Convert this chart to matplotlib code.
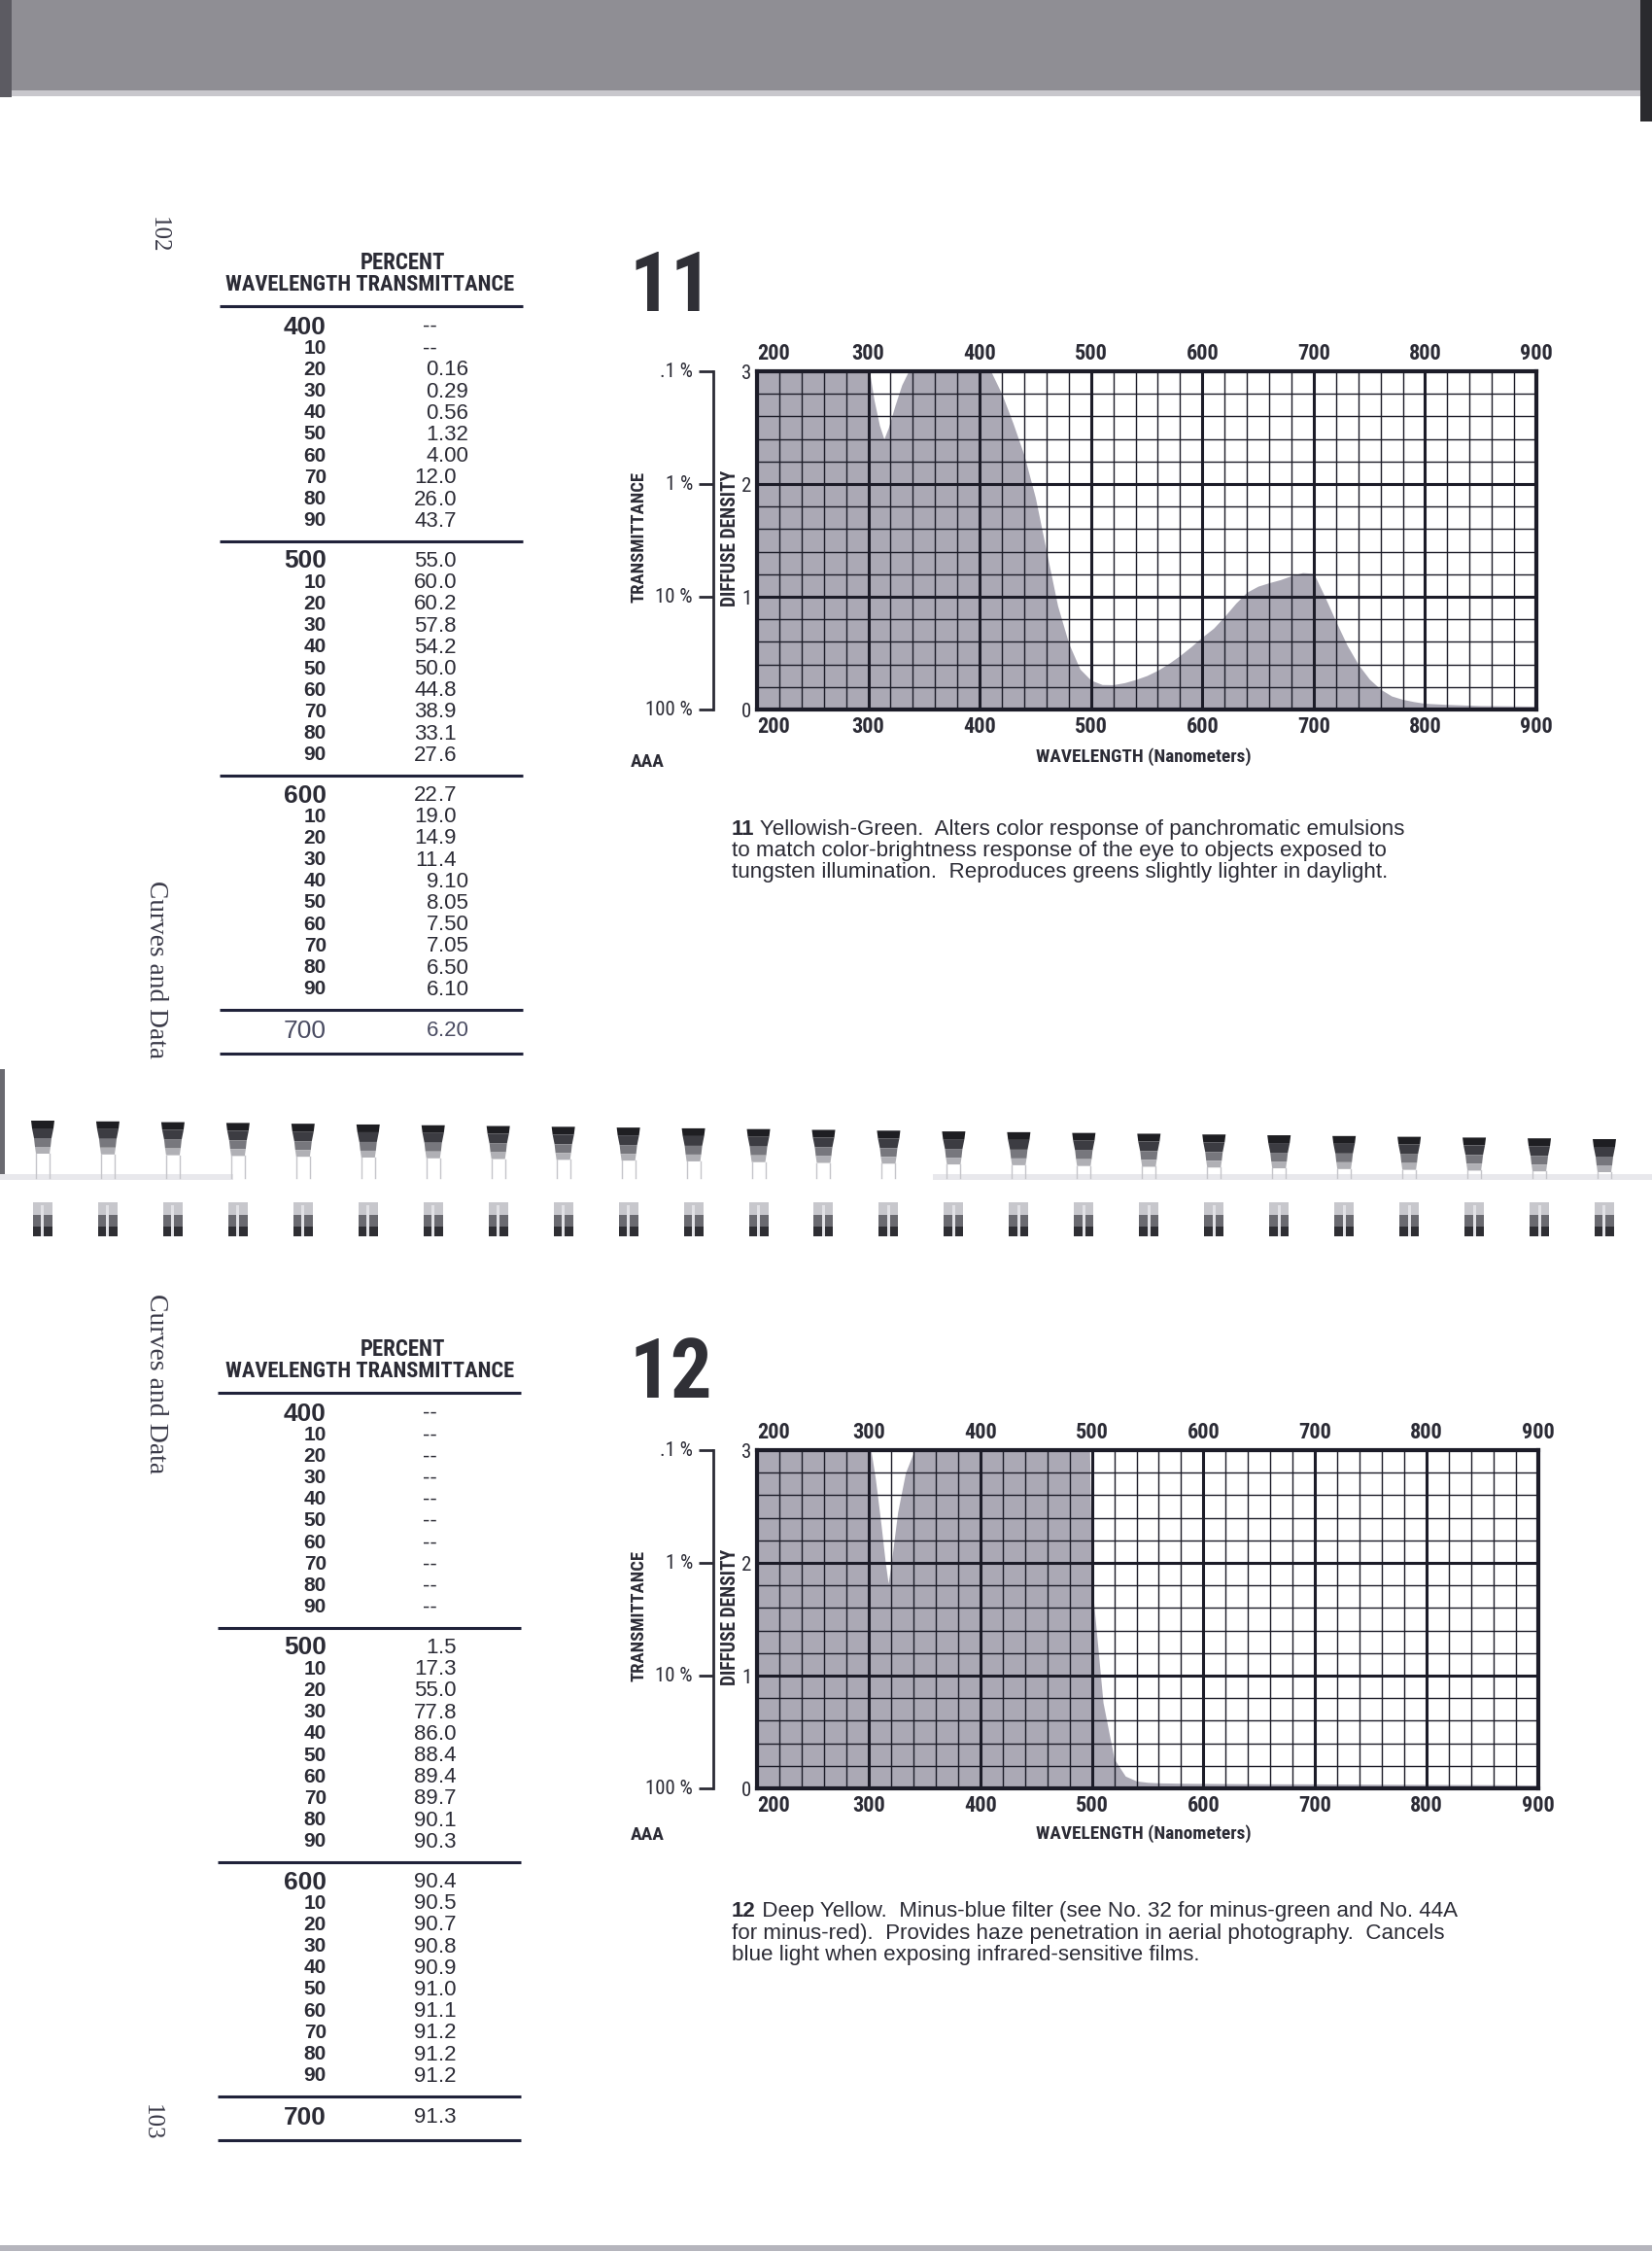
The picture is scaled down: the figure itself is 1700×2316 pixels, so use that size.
import numpy as np
import matplotlib
matplotlib.use("Agg")
import matplotlib.pyplot as plt
from matplotlib import font_manager as fm
from matplotlib.patches import Rectangle, Polygon
from matplotlib.ticker import MultipleLocator, FixedLocator

# ---------------- data (read from the page) ----------------
wl_table = list(range(400, 701, 10))
t11_text = ["--", "--", "0.16", "0.29", "0.56", "1.32", "4.00", "12.0", "26.0", "43.7",
            "55.0", "60.0", "60.2", "57.8", "54.2", "50.0", "44.8", "38.9", "33.1", "27.6",
            "22.7", "19.0", "14.9", "11.4", "9.10", "8.05", "7.50", "7.05", "6.50", "6.10",
            "6.20"]
t12_text = ["--", "--", "--", "--", "--", "--", "--", "--", "--", "--",
            "1.5", "17.3", "55.0", "77.8", "86.0", "88.4", "89.4", "89.7", "90.1", "90.3",
            "90.4", "90.5", "90.7", "90.8", "90.9", "91.0", "91.1", "91.2", "91.2", "91.2",
            "91.3"]

c11_wl_extra = [200, 301, 305, 310, 314, 318, 324, 330, 336, 395,
                710, 720, 730, 740, 750, 760, 770, 780, 790, 800, 820, 850, 900]
c11_d_extra = [3.0, 3.0, 2.75, 2.52, 2.40, 2.50, 2.70, 2.88, 3.0, 3.0,
               1.00, 0.78, 0.57, 0.40, 0.27, 0.18, 0.12, 0.09, 0.07, 0.055, 0.045, 0.035, 0.03]
c12_wl_extra = [200, 302, 306, 311, 315, 317.5, 320, 326, 333, 341, 395, 498,
                750, 800, 850, 900]
c12_d_extra = [3.0, 3.0, 2.75, 2.35, 2.0, 1.82, 1.98, 2.45, 2.8, 3.0, 3.0, 3.0,
               0.037, 0.035, 0.033, 0.03]

wl_ticks = [200, 300, 400, 500, 600, 700, 800, 900]
dens_ticks = [0, 1, 2, 3]
trans_pct = [0.1, 1, 10, 100]
trans_labels = [".1 %", "1 %", "10 %", "100 %"]

cap11 = ["11 Yellowish-Green.  Alters color response of panchromatic emulsions",
         "to match color-brightness response of the eye to objects exposed to",
         "tungsten illumination.  Reproduces greens slightly lighter in daylight."]
cap12 = ["12 Deep Yellow.  Minus-blue filter (see No. 32 for minus-green and No. 44A",
         "for minus-red).  Provides haze penetration in aerial photography.  Cancels",
         "blue light when exposing infrared-sensitive films."]

# ---------------- fonts / styles ----------------
def has_font(name):
    try:
        fm.findfont(fm.FontProperties(family=name), fallback_to_default=False)
        return True
    except Exception:
        return False


NARROW, STRETCH, NS = None, "normal", 0.84
for name in ["Liberation Sans Narrow", "Arial Narrow", "Roboto Condensed",
             "Noto Sans Condensed", "Open Sans Condensed", "DejaVu Sans Condensed"]:
    if has_font(name):
        NARROW, STRETCH, NS = [name, "DejaVu Sans"], "normal", 1.0
        break
if NARROW is None:
    for fam in ["Noto Sans", "Open Sans", "DejaVu Sans", "Roboto", "Inter"]:
        try:
            p = fm.findfont(fm.FontProperties(family=fam, stretch="condensed", weight="bold"),
                            fallback_to_default=False)
        except Exception:
            continue
        if "ondensed" in p or "arrow" in p:
            NARROW, STRETCH, NS = [fam, "DejaVu Sans"], "condensed", 0.95
            break
if NARROW is None:
    NARROW = ["DejaVu Sans"]

SANS = ["Liberation Sans", "DejaVu Sans"]
SERIF = ["Liberation Serif", "DejaVu Serif"]
INK = "#2b2b35"
GRID = "#1c1c28"
FILL = "#aba9b5"
RULE = "#20223a"
PX = 100 / 72.0
CAP = 0.72

W, H = 1700, 2316
fig = plt.figure(figsize=(W / 100, H / 100), dpi=100)
fig.patch.set_facecolor("white")
pg = fig.add_axes([0, 0, 1, 1])
pg.set_xlim(0, W)
pg.set_ylim(H, 0)
pg.axis("off")

fits = []


def ptext(x, yc, s, size, family=SANS, weight="normal", ha="left", color=INK, fitw=None,
          stretch="normal"):
    t = pg.text(x, yc + CAP * size * PX / 2, s, fontsize=size, family=family,
                fontweight=weight, ha=ha, va="baseline", color=color, fontstretch=stretch)
    if fitw:
        fits.append((t, fitw, yc, "h"))
    return t


def vtext(x, y, s, size, rotation, family, weight="normal", color=INK, fitl=None,
          stretch="normal"):
    t = pg.text(x, y, s, fontsize=size, family=family, fontweight=weight,
                rotation=rotation, ha="center", va="center", color=color, fontstretch=stretch)
    if fitl:
        fits.append((t, fitl, None, "v"))
    return t


# ---------------- page decoration ----------------
pg.add_patch(Rectangle((0, 0), W, 93, color="#8f8e94", lw=0))
pg.add_patch(Rectangle((0, 93), W, 6, color="#c8c7cc", lw=0))
pg.add_patch(Rectangle((0, 0), 12, 100, color="#5c5b62", lw=0))
pg.add_patch(Rectangle((1688, 0), 12, 125, color="#2a2a2e", lw=0))
pg.add_patch(Rectangle((0, 1100), 5, 110, color="#6a6a70", lw=0))
pg.add_patch(Rectangle((0, 2310), W, 6, color="#b5b5bd", lw=0))
pg.add_patch(Rectangle((0, 1208), 240, 6, color="#e8e8ec", lw=0))
pg.add_patch(Rectangle((960, 1208), 740, 6, color="#e8e8ec", lw=0))

ring_x = np.linspace(44, 1651, 25)
for i, x in enumerate(ring_x):
    y0 = 1153 + 19 * i / 24
    shades = ["#1e1e22", "#3c3c42", "#77777d", "#b0b0b5"]
    ys = [y0, y0 + 8, y0 + 18, y0 + 27, y0 + 34]
    ws = [12, 11, 9, 8, 7]
    for k in range(4):
        pg.add_patch(Polygon([[x - ws[k], ys[k]], [x + ws[k], ys[k]],
                              [x + ws[k + 1], ys[k + 1]], [x - ws[k + 1], ys[k + 1]]],
                             color=shades[k], lw=0))
    pg.plot([x - 7, x - 7], [y0 + 34, 1212], color="#c5c5ca", lw=1)
    pg.plot([x + 7, x + 7], [y0 + 34, 1212], color="#c5c5ca", lw=1)
    pg.add_patch(Rectangle((x - 10, 1237), 20, 35, color="#c7c7cc", lw=0))
    pg.add_patch(Rectangle((x - 10, 1250), 20, 22, color="#6a6a70", lw=0))
    pg.add_patch(Rectangle((x - 10, 1262), 20, 10, color="#2e2e33", lw=0))
    pg.add_patch(Rectangle((x - 1.5, 1240), 3, 32, color="#e2e2e6", lw=0))

# margin texts
vtext(163, 242, "102", 18, -90, SERIF, color="#3a3a48")
vtext(160, 998, "Curves and Data", 20, -90, SERIF, color="#3a3a48", fitl=183)
vtext(160, 1424, "Curves and Data", 20, -90, SERIF, color="#3a3a48", fitl=185)
vtext(156, 2184, "103", 18, -90, SERIF, color="#3a3a48")


# ---------------- tables ----------------
def draw_value(x_dec, x_dash, y, s, color):
    if s == "--":
        ptext(x_dash, y, s, 16, ha="center", color=color)
    else:
        a, b = s.split(".")
        ptext(x_dec, y, a, 16, ha="right", color=color)
        ptext(x_dec, y, "." + b, 16, ha="left", color=color)


def draw_table(y0, values, xr, light_last):
    ptext(415, y0 - 46, "PERCENT", 15 * NS, family=NARROW, stretch=STRETCH, weight="bold",
          ha="center", fitw=88)
    ptext(232, y0 - 24, "WAVELENGTH TRANSMITTANCE", 15 * NS, family=NARROW, stretch=STRETCH,
          weight="bold", fitw=298)
    pg.plot(xr, [y0, y0], color=RULE, lw=2.2, solid_capstyle="butt")
    x_wl, x_dec, x_dash = 336, 451, 442
    for k in range(3):
        yb = y0 + 19 + 241 * k
        for i in range(10):
            idx = k * 10 + i
            y = yb + 22.2 * i
            if i == 0:
                ptext(x_wl, y, str(wl_table[idx]), 19, weight="bold", ha="right")
            else:
                ptext(x_wl, y, str(wl_table[idx] % 100), 15, weight="bold", ha="right")
            draw_value(x_dec, x_dash, y, values[idx], INK)
        yr = yb + 223
        pg.plot(xr, [yr, yr], color=RULE, lw=2.2, solid_capstyle="butt")
    y7 = yr + 19
    c7 = "#4a4c62" if light_last else INK
    ptext(x_wl, y7, str(wl_table[30]), 19, weight="normal" if light_last else "bold",
          ha="right", color=c7)
    draw_value(x_dec, x_dash, y7, values[30], c7)
    pg.plot(xr, [y7 + 26, y7 + 26], color=RULE, lw=2.2, solid_capstyle="butt")


draw_table(315, t11_text, [226, 538], True)
draw_table(1433, t12_text, [224, 536], False)


# ---------------- charts ----------------
def curve(values, wl_extra, d_extra):
    pts = {}
    for w, s in zip(wl_table, values):
        pts[w] = 3.0 if s == "--" else -np.log10(float(s) / 100.0)
    for w, d in zip(wl_extra, d_extra):
        if w not in pts:
            pts[w] = d
    ws = sorted(pts)
    return np.array(ws, float), np.array([pts[w] for w in ws])


def draw_chart(top, bottom, right, values, wl_extra, d_extra, number, num_y, aaa_y, wl_y):
    ax = fig.add_axes([779 / W, (H - bottom) / H, (right - 779) / W, (bottom - top) / H])
    wl, d = curve(values, wl_extra, d_extra)
    ax.fill_between(wl, 0, np.clip(d, 0, 3), color=FILL, lw=0, zorder=1)
    ax.set_xlim(200, 900)
    ax.set_ylim(0, 3)
    ax.xaxis.set_major_locator(FixedLocator(wl_ticks))
    ax.xaxis.set_minor_locator(MultipleLocator(20))
    ax.yaxis.set_major_locator(FixedLocator(dens_ticks))
    ax.yaxis.set_minor_locator(MultipleLocator(0.2))
    ax.grid(which="major", color=GRID, lw=2.2)
    ax.grid(which="minor", color=GRID, lw=1.0)
    ax.set_axisbelow(False)
    for s in ax.spines.values():
        s.set_linewidth(3.0)
        s.set_color(GRID)
    ax.tick_params(which="both", length=0)
    ax.tick_params(axis="x", labeltop=True, labelbottom=True, pad=5)
    ax.set_xticklabels([str(w) for w in wl_ticks], fontfamily=NARROW, fontstretch=STRETCH,
                       fontweight="bold", fontsize=16 * NS, color=INK)
    ticks = ax.xaxis.get_major_ticks()
    ticks[0].label1.set_ha("left")
    ticks[0].label2.set_ha("left")
    ax.tick_params(axis="y", pad=4)
    ax.set_yticklabels([str(v) for v in dens_ticks], fontfamily=NARROW, fontstretch=STRETCH,
                       fontsize=15 * NS, color=INK)

    tr = ax.get_yaxis_transform()
    xl, xt = -0.0561, -0.0748
    ax.plot([xl, xl], [0, 3], transform=tr, clip_on=False, color=INK, lw=2.0)
    for p, lab in zip(trans_pct, trans_labels):
        dd = -np.log10(p / 100.0)
        ax.plot([xt, xl], [dd, dd], transform=tr, clip_on=False, color=INK, lw=2.0,
                solid_capstyle="butt")
        ax.text(-0.0823, dd, lab, transform=tr, ha="right", va="center",
                fontfamily=NARROW, fontstretch=STRETCH, fontsize=15 * NS, color=INK)

    vtext(658, top + 170, "TRANSMITTANCE", 12 * NS, 90, NARROW, weight="bold", fitl=134,
          stretch=STRETCH)
    vtext(752, top + 172, "DIFFUSE DENSITY", 12 * NS, 90, NARROW, weight="bold", fitl=140,
          stretch=STRETCH)
    ptext(647, num_y, number, 61, family=NARROW, stretch=STRETCH, weight="bold",
          color="#303036")
    ptext(649, aaa_y, "AAA", 14 * NS, family=NARROW, stretch=STRETCH, weight="bold")
    ptext(1177, wl_y, "WAVELENGTH (Nanometers)", 14, family=NARROW, stretch=STRETCH,
          weight="bold", ha="center", fitw=222)
    return ax


draw_chart(382, 730, 1581, t11_text, c11_wl_extra, c11_d_extra, "11", 290, 782, 777)
draw_chart(1492, 1840, 1583, t12_text, c12_wl_extra, c12_d_extra, "12", 1407, 1886, 1885)

# ---------------- captions ----------------
captions = []


def caption(x, ys, lines, target_w):
    num, rest = lines[0].split(" ", 1)
    tb = ptext(x, ys[0], num, 14.5, weight="bold")
    trs = ptext(x, ys[0], " " + rest, 14.5)
    others = [ptext(x, y, l, 14.5) for y, l in zip(ys[1:], lines[1:])]
    captions.append((x, tb, trs, others, target_w, ys))


caption(753, [851, 873, 895], cap11, 693)
caption(753, [1964, 1987, 2009], cap12, 746)

# ---------------- fit sizes ----------------
fig.canvas.draw()
r = fig.canvas.get_renderer()
for t, target, yc, kind in fits:
    bb = t.get_window_extent(r)
    cur = bb.width if kind == "h" else bb.height
    s = t.get_fontsize() * target / max(cur, 1)
    t.set_fontsize(s)
    if yc is not None:
        t.set_y(yc + CAP * s * PX / 2)

for x, tb, trs, others, target_w, ys in captions:
    wb = tb.get_window_extent(r).width
    wr = trs.get_window_extent(r).width
    s = 14.5 * target_w / (wb + wr)
    for t in [tb, trs] + others:
        t.set_fontsize(s)
    tb.set_y(ys[0] + CAP * s * PX / 2)
    trs.set_y(ys[0] + CAP * s * PX / 2)
    for t, y in zip(others, ys[1:]):
        t.set_y(y + CAP * s * PX / 2)

fig.canvas.draw()
r = fig.canvas.get_renderer()
for x, tb, trs, others, target_w, ys in captions:
    wb = tb.get_window_extent(r).width
    trs.set_x(x + wb)

fig.savefig("out.png", dpi=100, facecolor="white")
